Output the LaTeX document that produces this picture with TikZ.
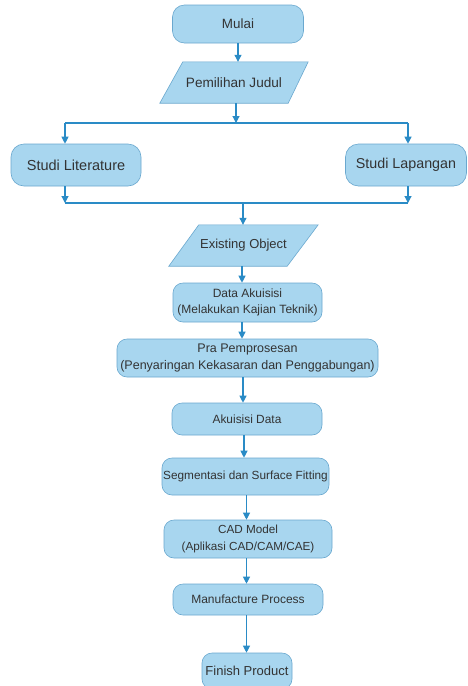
\documentclass[tikz,border=0pt]{standalone}
\usepackage{fontspec}
\setmainfont{Liberation Sans}
\usetikzlibrary{arrows.meta}
\definecolor{boxfill}{HTML}{A8D6EF}
\definecolor{boxline}{HTML}{6AA8CF}
\definecolor{arrowc}{HTML}{2A8BC6}
\definecolor{txt}{HTML}{333333}
\begin{document}
\begin{tikzpicture}[x=1pt,y=-1pt,
  procbox/.style={draw=boxline, fill=boxfill, line width=0.6pt, rounded corners=10pt, text=txt, align=center, inner sep=0pt},
  iotext/.style={text=txt, inner sep=0pt},
  ioshape/.style={draw=boxline, fill=boxfill, line width=0.6pt},
  flow/.style={draw=arrowc, line width=1.1pt},
  arr/.style={flow, -{Triangle[width=7pt,length=7pt]}},
]
\useasboundingbox (0,0) rectangle (467,686);
\clip (0,0) rectangle (467,686);
\fill[white] (0,0) rectangle (467,686);

\node[procbox, rounded corners=12pt, minimum width=131pt, minimum height=38pt, font=\fontsize{13.4}{16}\selectfont] (mulai) at (238,24) {Mulai};

% Pemilihan Judul (parallelogram)
\node[iotext, minimum width=148pt, minimum height=41pt] (pj) at (234,82.5) {};
\draw[ioshape] (pj.south west) -- ([xshift=-20pt]pj.south east) -- (pj.north east) -- ([xshift=23pt]pj.north west) -- cycle;
\node[iotext, font=\fontsize{13.6}{16}\selectfont] at (pj.center) {Pemilihan Judul};

\node[procbox, rounded corners=13pt, minimum width=130pt, minimum height=42pt, font=\fontsize{14.5}{16}\selectfont] (sl) at (76,165) {Studi Literature};
\node[procbox, rounded corners=13pt, minimum width=121pt, minimum height=42pt, font=\fontsize{14.3}{16}\selectfont] (sp) at (406,165) {Studi Lapangan};

% Existing Object (parallelogram)
\node[iotext, minimum width=149pt, minimum height=41pt] (eo) at (243.5,245.5) {};
\draw[ioshape] (eo.south west) -- ([xshift=-31pt]eo.south east) -- (eo.north east) -- ([xshift=30pt]eo.north west) -- cycle;
\node[iotext, font=\fontsize{13}{16}\selectfont] at (eo.center) {Existing Object};

\node[procbox, minimum width=149pt, minimum height=39pt, font=\fontsize{12}{16}\selectfont] (da) at (247.5,302.5) {Data Akuisisi\\(Melakukan Kajian Teknik)};
\node[procbox, minimum width=261pt, minimum height=38pt, font=\fontsize{12.5}{16.5}\selectfont] (pra) at (247.5,358) {Pra Pemprosesan\\(Penyaringan Kekasaran dan Penggabungan)};
\node[procbox, minimum width=150pt, minimum height=32pt, font=\fontsize{11.9}{16}\selectfont] (ad) at (247,419) {Akuisisi Data};
\node[procbox, minimum width=167pt, minimum height=37pt, font=\fontsize{11.8}{16}\selectfont] (seg) at (245.5,476.5) {Segmentasi dan Surface Fitting};
\node[procbox, minimum width=168pt, minimum height=38pt, font=\fontsize{11.7}{16.5}\selectfont] (cad) at (248,539) {CAD Model\\(Aplikasi CAD/CAM/CAE)};
\node[procbox, minimum width=150pt, minimum height=31pt, font=\fontsize{12}{16}\selectfont] (man) at (248,599.5) {Manufacture Process};
\node[procbox, minimum width=90pt, minimum height=36pt, font=\fontsize{13}{16}\selectfont] (fin) at (247,671) {Finish Product};

% split and merge points
\coordinate (sL) at (65,123);
\coordinate (sR) at (408,123);
\coordinate (mL) at (65,203);
\coordinate (mR) at (408,203);
\coordinate (x1) at (238,0);
\coordinate (x2) at (236,0);
\coordinate (x3) at (243,0);
\coordinate (x4) at (242,0);
\coordinate (x5) at (244,0);
\coordinate (x6) at (246.5,0);

\draw[arr] (mulai.south -| x1) -- (pj.north -| x1);
\draw[arr] (pj.south -| x2) -- (sL -| x2);
\draw[flow] (sL) -- (sR);
\draw[arr] (sL) -- (sl.north -| sL);
\draw[arr] (sR) -- (sp.north -| sR);
\draw[arr] (sl.south -| mL) -- (mL);
\draw[arr] (sp.south -| mR) -- (mR);
\draw[flow] (mL) -- (mR);
\draw[arr] (mL -| x3) -- (eo.north -| x3);
\draw[arr] (eo.south -| x4) -- (da.north -| x4);
\draw[arr] (da.south -| x4) -- (pra.north -| x4);
\draw[arr] (pra.south -| x3) -- (ad.north -| x3);
\draw[arr] (ad.south -| x5) -- (seg.north -| x5);
\draw[arr] (seg.south -| x6) -- (cad.north -| x6);
\draw[arr] (cad.south -| x6) -- (man.north -| x6);
\draw[arr] (man.south -| x6) -- (fin.north -| x6);
\end{tikzpicture}
\end{document}
